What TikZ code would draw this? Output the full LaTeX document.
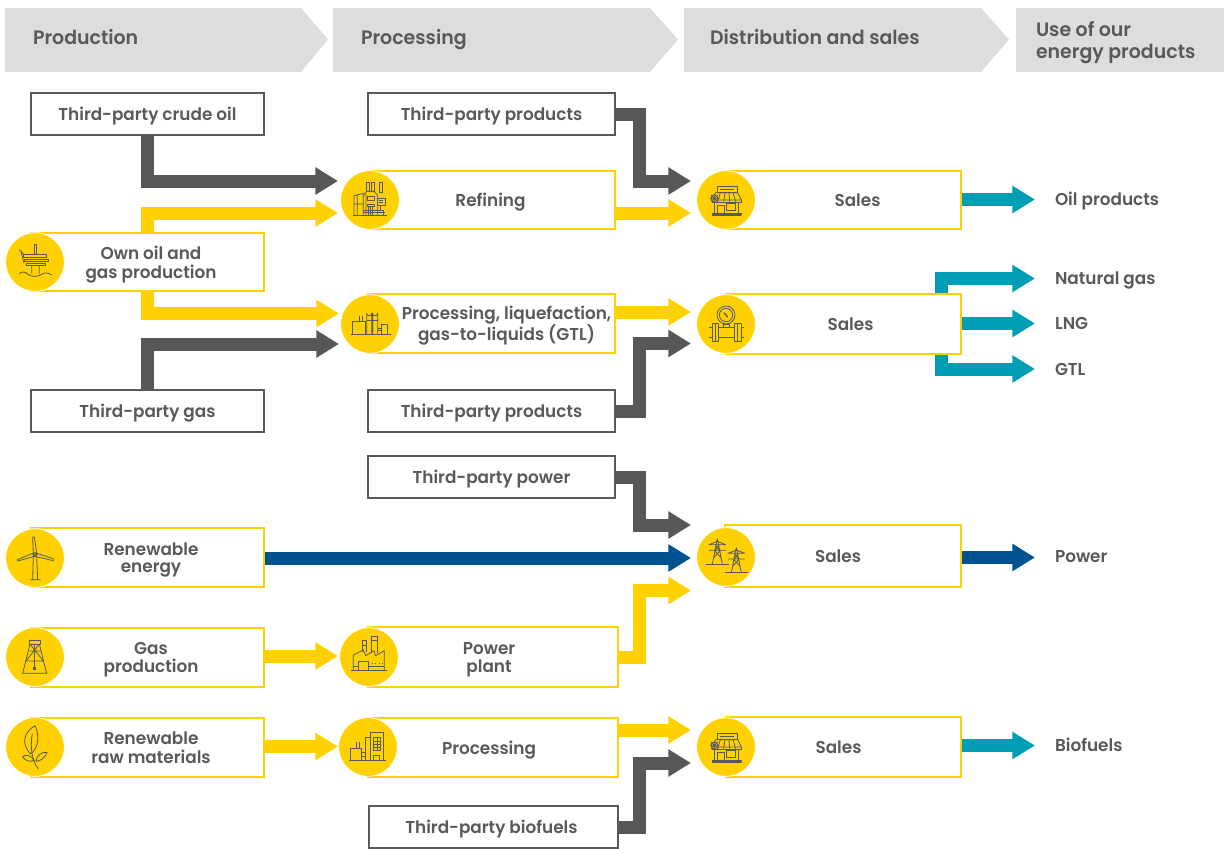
\documentclass[tikz,border=0pt]{standalone}
\usepackage{fontspec}
\setmainfont{Poppins}[UprightFont=* SemiBold,FakeStretch=0.98]
\usetikzlibrary{arrows.meta,calc}
\pgfdeclarelayer{under}
\pgfsetlayers{under,main}
\definecolor{hdr}{HTML}{DCDDDE}
\definecolor{ink}{HTML}{58595B}
\definecolor{dk}{HTML}{575756}
\definecolor{yel}{HTML}{FFD100}
\definecolor{nav}{HTML}{005291}
\definecolor{teal}{HTML}{009EB4}
\tikzset{
 x=0.75pt,y=-0.75pt,
 arr/.style={line width=9.75pt,-{Triangle[length=17pt,width=19.5pt]}},
 ygbox/.style={draw=yel,fill=white,line width=1.5pt,inner sep=0,outer sep=0,text=ink,font=\lblf},
 gybox/.style={draw=ink,fill=white,line width=1.5pt,inner sep=0,outer sep=0,text=ink,font=\lblf},
 disc/.style={circle,fill=yel,draw=white,line width=.6pt,minimum size=44pt,inner sep=0,outer sep=0},
 plain/.style={text=ink,inner sep=0,outer sep=0,font=\lblf,anchor=base west},
 head/.style={text=ink,inner sep=0,outer sep=0,font=\hdrf,anchor=base west},
 bar/.style={fill=hdr},
 icon/.style={draw=ink,line width=.6pt,line join=round}
}
\newcommand\lblf{\fontsize{12.9}{12.75}\selectfont}
\newcommand\hdrf{\fontsize{14.5}{16}\selectfont}
\newcommand\tx[2]{\kern #1\dimexpr1.5pt\relax\raisebox{-2pt}[\height][\depth]{\begin{tabular}{@{}c@{}}#2\end{tabular}}}
\newcommand\bx[7]{\node[#2,minimum width={(#5-#3)*.75pt},minimum height={(#6-#4)*.75pt}] (#1) at ({(#3+#5)/2},{(#4+#6)/2}) {#7};}
\newcommand\dsc[3]{\node[disc] (#1) at (#2,#3) {};}
\newcommand\zig[4][bend]{\draw[arr,#2] (#3) -- (#3 -| #1) -- (#1 |- #4) -- (#4);}
\newcommand\ico[2]{\begin{scope}[shift={(#1)},x=.25pt,y=-.25pt,shift={(#2)},icon]}
\newcommand\iplatform[1]{\ico{#1}{-105,-787}
 \draw (103,733) rectangle (110,765);
 \draw (70,765) rectangle (140,772);
 \draw (73,778) rectangle (146,785);
 \draw (78,791) rectangle (135,798);
 \draw (58,750) -- (72,765) (62,752) -- (72,790) (95,798) -- (95,822) (118,798) -- (118,822);
 \draw (57,822) .. controls (68,815) and (75,815) .. (85,825) .. controls (95,832) and (112,832) .. (125,824) .. controls (135,816) and (145,820) .. (155,826);
\end{scope}}
\newcommand\irefinery[1]{\ico{#1}{-120,-148}
 \draw (110,95) rectangle (118,122) (125,95) rectangle (133,122) (148,95) rectangle (157,125);
 \draw (70,195) -- (170,195);
 \draw (72,195) -- (72,135) -- (100,128) -- (100,195) (72,160) -- (100,160) (82,135) -- (82,195);
 \draw (100,135) -- (110,122) -- (133,122) -- (143,135) -- (143,195) (108,130) -- (108,195);
 \draw (113,137) rectangle (133,150) (113,160) rectangle (133,168) (116,168) -- (116,195) (122,168) -- (122,195) (128,168) -- (128,195);
 \draw (143,143) rectangle (165,163) (148,150) -- (160,150) (148,156) -- (160,156);
 \draw (100,178) -- (160,178) (100,186) -- (165,186) (160,178) -- (160,195) (150,165) -- (150,178);
\end{scope}}
\newcommand\iliquid[1]{\ico{#1}{-120,-520}
 \draw (62,552) -- (182,552);
 \draw (68,552) -- (68,512) -- (105,512) -- (105,552) (88,512) -- (88,495) (96,512) -- (96,495);
 \draw (110,552) -- (110,488) arc (180:0:7.5) -- (125,552) (128,552) -- (128,488) arc (180:0:7.5) -- (143,552);
 \draw (155,552) -- (155,520) -- (173,520) -- (173,552) (143,532) -- (155,532) (143,540) -- (155,540) (110,510) -- (125,510) (128,510) -- (143,510);
\end{scope}}
\newcommand\ishop[1]{\ico{#1}{-137,-120}
 \draw (110,80) rectangle (170,97) (118,88) -- (162,88);
 \draw (106,98) -- (172,98) -- (183,120) -- (95,120) -- cycle;
 \draw (95,120) -- (95,126) -- (183,126) -- (183,120);
 \foreach \a/\b in {120/112,134/130,146/148,158/166}{\draw (\a,98) -- (\b,125);}
 \draw (103,126) -- (103,160) (175,126) -- (175,160);
 \draw (112,160) -- (112,137) -- (132,137) -- (132,160) (139,130) rectangle (165,150);
 \draw[line width=1pt] (97,161) rectangle (182,165);
 \draw[fill=yel] (102,115) circle (10);
 \draw (88,115) -- (116,115) (102,101) -- (102,129) (92,105) -- (112,125) (92,125) -- (112,105);
\end{scope}}
\newcommand\igauge[1]{\ico{#1}{-137,-492}
 \draw (137,465) circle (27) (137,465) circle (20);
 \draw[line width=1pt] (130,458) -- (137,465) -- (142,472);
 \draw (128,492) rectangle (146,501);
 \draw (113,503) -- (162,503) (113,533) -- (162,533);
 \draw (97,490) rectangle (113,543) (162,490) rectangle (183,543) (104,490) -- (104,543) (172,490) -- (172,543);
 \draw (85,503) -- (97,503) (85,531) -- (97,531) (183,503) -- (192,503) (183,531) -- (192,531);
\end{scope}}
\newcommand\ipylons[1]{\ico{#1}{-316,-172}
 \foreach \dx/\dy in {0/0,57/26}{
  \begin{scope}[shift={(\dx,\dy)}]
  \draw (265,135) -- (315,135) -- (290,125) -- cycle (265,152) -- (315,152);
  \draw (290,117) -- (275,193) (290,117) -- (305,193) (281,152) -- (302,175) (299,152) -- (278,175) (284,135) -- (296,152) (296,135) -- (284,152);
  \draw (255,193) -- (325,193);
  \end{scope}}
\end{scope}}
\newcommand\iturbine[1]{\ico{#1}{-105,-143}
 \draw (100,133) -- (98,80) -- (103,80) -- (111,133) -- cycle;
 \draw (100,128) -- (52,148) -- (54,152) -- (103,138) -- cycle;
 \draw (108,128) -- (160,145) -- (160,151) -- (104,138) -- cycle;
 \draw (105,133) circle (6);
 \draw (100,140) -- (98,207) (110,140) -- (113,207) (91,208) -- (122,208);
\end{scope}}
\newcommand\iderrick[1]{\ico{#1}{-105,-443}
 \draw (88,392) rectangle (120,404);
 \draw (90,404) -- (68,492) (118,404) -- (140,492) (66,492) -- (142,492);
 \draw (85,425) -- (123,425) (78,455) -- (130,455) (90,404) -- (130,455) (118,404) -- (78,455);
 \draw (104,404) -- (104,475);
 \fill[ink] (99,472) rectangle (109,483);
\end{scope}}
\newcommand\ifactory[1]{\ico{#1}{-1107,-441}
 \draw (1053,482) -- (1160,482);
 \draw (1060,482) -- (1060,435) -- (1090,420) -- (1097,437) -- (1122,422) -- (1126,437) -- (1153,422) -- (1153,482);
 \draw (1087,425) -- (1087,392) -- (1100,392) -- (1100,425) (1115,428) -- (1115,378) -- (1133,378) -- (1133,430);
 \draw (1085,405) -- (1102,405) (1113,390) -- (1135,390);
 \draw (1075,482) -- (1075,455) -- (1105,455) -- (1105,482) (1060,468) -- (1075,468) (1105,468) -- (1153,468);
 \draw[dotted] (1115,460) -- (1147,460);
\end{scope}}
\newcommand\iplant[1]{\ico{#1}{-1105,-713}
 \draw (1047,752) -- (1160,752);
 \draw (1052,752) -- (1052,718) -- (1085,718) -- (1085,752) (1070,718) -- (1070,698) (1078,718) -- (1078,698);
 \draw (1085,730) -- (1098,730) (1085,740) -- (1098,740);
 \draw (1098,752) -- (1098,685) -- (1112,685) -- (1112,752) (1112,668) -- (1152,668) -- (1152,752) (1112,752) -- (1112,668);
 \draw (1122,685) rectangle (1142,722) (1132,685) -- (1132,722) (1122,695) -- (1142,695) (1122,705) -- (1142,705) (1122,713) -- (1142,713);
 \draw (1120,752) -- (1120,738) -- (1140,738) -- (1140,752);
\end{scope}}
\newcommand\ileaf[1]{\ico{#1}{-105,-712}
 \draw (105,648) .. controls (75,665) and (60,700) .. (92,733) .. controls (115,715) and (120,680) .. (105,648) -- cycle;
 \draw (115,778) .. controls (100,760) and (88,720) .. (97,672);
 \draw (103,752) .. controls (90,735) and (78,733) .. (67,742) .. controls (78,755) and (92,757) .. (103,752) -- cycle;
 \draw (108,755) .. controls (120,755) and (135,745) .. (141,728) .. controls (125,727) and (110,735) .. (108,755) -- cycle;
\end{scope}}
\begin{document}
\begin{tikzpicture}
\useasboundingbox (0,0) rectangle (1224,849);
% headers
\fill[bar] (5,8) -- (301,8) -- (328,39.5) -- (301,72) -- (5,72) -- cycle;
\fill[bar] (333,8) -- (650,8) -- (678,39.5) -- (650,72) -- (333,72) -- cycle;
\fill[bar] (684,8) -- (981,8) -- (1009,39.5) -- (981,72) -- (684,72) -- cycle;
\fill[bar] (1016,8) rectangle (1224,72);
\node[head] (h1) at (33,45) {Production};
\node[head] (h2) at (361,45) {Processing};
\node[head] (h3) at (710,45) {Distribution and sales};
\node[head,anchor=west,align=left] (h4) at (1036,42.5) {Use of our\\energy products};
% connector ends
\coordinate (bend) at (639.5,0);
\coordinate (bendt) at (941.5,0);
\coordinate (a1) at (338,181);
\coordinate (a2) at (338,213);
\coordinate (a3) at (339,313.5);
\coordinate (a4) at (339,344);
\coordinate (a5) at (691,181);
\coordinate (a6) at (691,213);
\coordinate (a7) at (691,312);
\coordinate (a8) at (691,343.5);
\coordinate (a9) at (691,525);
\coordinate (a10) at (691,558);
\coordinate (a11) at (691,590.5);
\coordinate (a12) at (338,656);
\coordinate (a13) at (338,746.5);
\coordinate (a14) at (691,730);
\coordinate (a15) at (691,763);
\coordinate (a16) at (1035,199.5);
\coordinate (a17) at (1035,278.5);
\coordinate (a18) at (1035,323.5);
\coordinate (a19) at (1035,369);
\coordinate (a20) at (1035,557.5);
\coordinate (a21) at (1035,745.5);
% boxes
\bx{crude}{gybox}{31}{93}{264}{135}{\tx{0}{Third-party crude oil}}
\bx{prodA}{gybox}{368}{93}{615}{135}{\tx{0}{Third-party products}}
\bx{refining}{ygbox}{368}{171}{615}{229}{\tx{-1}{Refining}}
\bx{own}{ygbox}{31}{233}{264}{291}{\tx{3.5}{Own oil and\\gas production}}
\bx{liq}{ygbox}{368}{294}{615}{353}{\tx{15}{Processing, liquefaction,\\gas-to-liquids (GTL)}}
\bx{salesA}{ygbox}{726}{171}{961}{229}{\tx{14}{Sales}}
\bx{salesB}{ygbox}{726}{294}{961}{354}{\tx{7}{Sales}}
\bx{gas}{gybox}{31}{390}{264}{432}{\tx{0}{Third-party gas}}
\bx{prodB}{gybox}{368}{390}{615}{432}{\tx{0}{Third-party products}}
\bx{tpower}{gybox}{368}{456}{615}{498}{\tx{0}{Third-party power}}
\bx{salesC}{ygbox}{725}{525}{961}{587}{\tx{-5}{Sales}}
\bx{renew}{ygbox}{31}{528}{264}{587}{\tx{3.5}{Renewable\\energy}}
\bx{gasprod}{ygbox}{31}{628}{264}{687}{\tx{3.5}{Gas\\production}}
\bx{plant}{ygbox}{368}{627}{618}{687}{\tx{-4}{Power\\plant}}
\bx{raw}{ygbox}{31}{718}{264}{777}{\tx{3.5}{Renewable\\raw materials}}
\bx{proc}{ygbox}{368}{718}{618}{777}{\tx{-4}{Processing}}
\bx{salesD}{ygbox}{726}{717}{961}{777}{\tx{-5}{Sales}}
\bx{biof}{gybox}{369}{806}{618}{848}{\tx{-2}{Third-party biofuels}}
% connectors, under the boxes
\begin{pgfonlayer}{under}
\draw[arr,dk] (crude.south) |- (a1);
\draw[arr,yel] (own.north) |- (a2);
\draw[arr,yel] (own.south) |- (a3);
\draw[arr,dk] (gas.north) |- (a4);
\zig{dk}{prodA.east}{a5}
\draw[arr,yel] (refining.east |- a6) -- (a6);
\draw[arr,yel] (liq.east |- a7) -- (a7);
\zig{dk}{prodB.east}{a8}
\zig{dk}{tpower.east}{a9}
\draw[arr,nav] (renew.east |- a10) -- (a10);
\zig{yel}{plant.east}{a11}
\draw[arr,yel] (gasprod.east |- a12) -- (a12);
\draw[arr,yel] (raw.east |- a13) -- (a13);
\draw[arr,yel] (proc.east |- a14) -- (a14);
\zig{dk}{biof.east}{a15}
\draw[arr,teal] (salesA.east |- a16) -- (a16);
\draw[arr,teal] (salesB.north -| bendt) |- (a17);
\draw[arr,teal] (salesB.east |- a18) -- (a18);
\draw[arr,teal] (salesB.south -| bendt) |- (a19);
\draw[arr,nav] (salesC.east |- a20) -- (a20);
\draw[arr,teal] (salesD.east |- a21) -- (a21);
\end{pgfonlayer}
% discs and icons
\dsc{dOwn}{35}{262} \iplatform{dOwn}
\dsc{dRef}{370}{200} \irefinery{dRef}
\dsc{dLiq}{370}{324} \iliquid{dLiq}
\dsc{dSA}{726}{200} \ishop{dSA}
\dsc{dSB}{726}{324} \igauge{dSB}
\dsc{dSC}{726}{557} \ipylons{dSC}
\dsc{dRen}{35}{558} \iturbine{dRen}
\dsc{dGas}{35}{657} \iderrick{dGas}
\dsc{dPl}{369}{657} \ifactory{dPl}
\dsc{dRaw}{35}{747} \ileaf{dRaw}
\dsc{dPr}{368}{747} \iplant{dPr}
\dsc{dSD}{726}{747} \ishop{dSD}
% end labels
\node[plain] (e1) at (1055,205) {Oil products};
\node[plain] (e2) at (1055,284) {Natural gas};
\node[plain] (e3) at (1055,329) {LNG};
\node[plain] (e4) at (1055,375) {GTL};
\node[plain] (e5) at (1055,562) {Power};
\node[plain] (e6) at (1055,751) {Biofuels};
\end{tikzpicture}
\end{document}
